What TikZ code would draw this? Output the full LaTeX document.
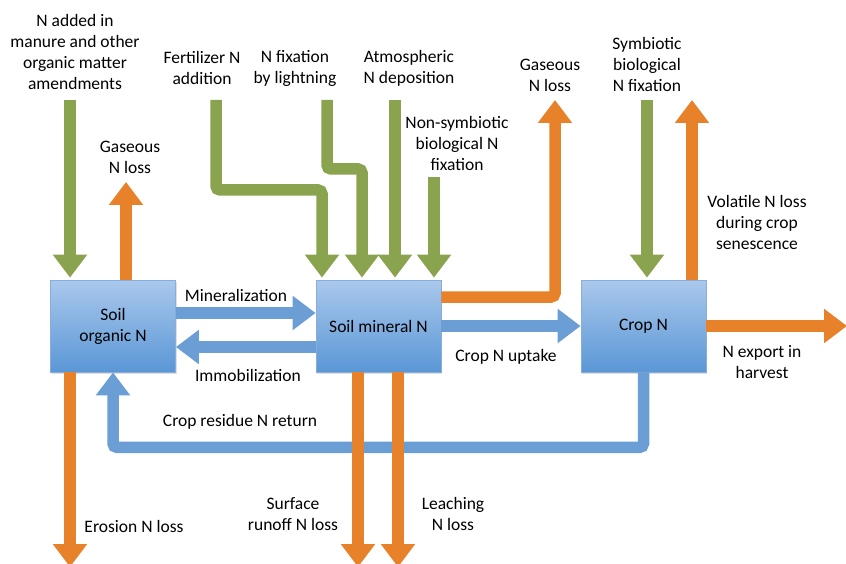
\documentclass[tikz,border=0pt]{standalone}
\usepackage{fontspec}
\setmainfont{Carlito}
\usetikzlibrary{arrows.meta,shadows}
\definecolor{ngreen}{HTML}{8AA34F}
\definecolor{norange}{HTML}{E8822A}
\definecolor{nblue}{HTML}{6A9ED5}
\definecolor{boxtop}{HTML}{AAC8EC}
\definecolor{boxbot}{HTML}{5A97D6}
\definecolor{boxline}{HTML}{86ADDC}
\begin{document}
\begin{tikzpicture}[x=1pt,y=-1pt,
  font=\fontsize{17.5}{21}\selectfont,
  pool/.style={draw=boxline, line width=0.8pt, top color=boxtop, bottom color=boxbot,
    minimum width=125pt, minimum height=92pt, inner sep=0pt, align=center,
    drop shadow={shadow xshift=1pt, shadow yshift=-1.5pt, opacity=0.25}},
  lbl/.style={align=center, inner sep=0pt},
  flow/.style={line width=11.5pt, rounded corners=4pt,
    -{Triangle[width=33pt,length=23pt]}},
  gflow/.style={flow, draw=ngreen},
  oflow/.style={flow, draw=norange},
  bflow/.style={flow, draw=nblue},
]
\useasboundingbox (0,0) rectangle (846,564);

% pools
\node[pool] (som) at (113,326) {Soil\\organic N};
\node[pool] (smn) at (378.5,326) {Soil mineral N};
\node[pool] (crop) at (643.5,326) {Crop N};

% labels
\node[lbl] (tman) at (75,52) {N added in\\manure and other\\organic matter\\amendments};
\node[lbl] (tgas1) at (130,157) {Gaseous\\N loss};
\node[lbl] (tfert) at (202,68) {Fertilizer N\\addition};
\node[lbl] (tlight) at (295,68) {N fixation\\by lightning};
\node[lbl] (tatm) at (409,68) {Atmospheric\\N deposition};
\node[lbl] (tnon) at (457,143) {Non-symbiotic\\biological N\\fixation};
\node[lbl] (tgas2) at (550,75) {Gaseous\\N loss};
\node[lbl] (tsym) at (647,64) {Symbiotic\\biological\\N fixation};
\node[lbl] (tvol) at (757,222) {Volatile N loss\\during crop\\senescence};
\node[lbl] (tmin) at (236,295) {Mineralization};
\node[lbl] (timm) at (248,375) {Immobilization};
\node[lbl] (tupt) at (506,357) {Crop N uptake};
\node[lbl] (texp) at (762,362) {N export in\\harvest};
\node[lbl] (tres) at (240,422) {Crop residue N return};
\node[lbl] (tero) at (134,526) {Erosion N loss};
\node[lbl] (trun) at (293,514) {Surface\\runoff N loss};
\node[lbl] (tlea) at (453,514) {Leaching\\N loss};

% free ends
\coordinate (m0) at (70,100);
\coordinate (f0) at (216,100);
\coordinate (l0) at (327,100);
\coordinate (a0) at (395,100);
\coordinate (n0) at (434,177);
\coordinate (s0) at (647,100);
\coordinate (g1) at (126,182);
\coordinate (g2) at (555,100);
\coordinate (v1) at (692,100);
\coordinate (e1) at (70,567);
\coordinate (r1) at (358,567);
\coordinate (lc1) at (398,567);
\coordinate (x1) at (847,326);

% blue internal flows
\draw[bflow] ([yshift=13pt]som.east) -- ([yshift=13pt]smn.west);
\draw[bflow] ([yshift=-21pt]smn.west) -- ([yshift=-21pt]som.east);
\draw[bflow] (smn.east) -- (crop.west);
\draw[bflow] (crop.south) -- ++(0,75) -| (som.south);

% green inputs
\draw[gflow] (m0) -- ([yshift=2pt]som.north -| m0);
\draw[gflow] (f0) -- (216,190) -| ([xshift=-56.5pt,yshift=2pt]smn.north);
\draw[gflow] (l0) -- (327,169) -| ([xshift=-16.5pt,yshift=2pt]smn.north);
\draw[gflow] (a0) -- ([yshift=2pt]smn.north -| a0);
\draw[gflow] (n0) -- ([yshift=2pt]smn.north -| n0);
\draw[gflow] (s0) -- ([yshift=2pt]crop.north -| s0);

% orange losses
\draw[oflow] (som.north -| g1) -- (g1);
\draw[oflow] ([yshift=29pt]smn.east) -| (g2);
\draw[oflow] (crop.north -| v1) -- (v1);
\draw[oflow] (som.south -| e1) -- (e1);
\draw[oflow] (smn.south -| r1) -- (r1);
\draw[oflow] (smn.south -| lc1) -- (lc1);
\draw[oflow] (crop.east) -- (x1);
\end{tikzpicture}
\end{document}
